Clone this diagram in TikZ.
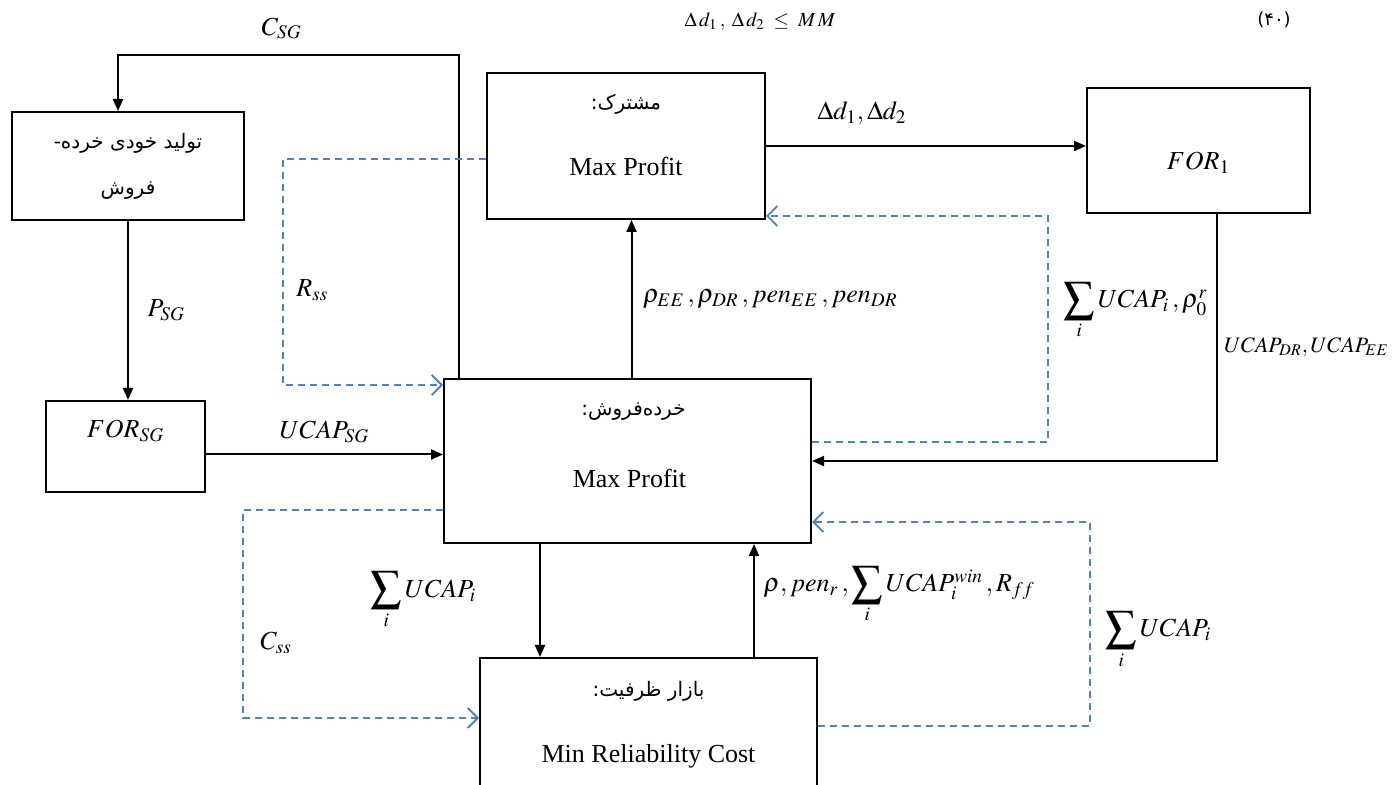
\documentclass[tikz,border=0pt]{standalone}
\usepackage{mathptmx}
\usepackage{fontspec}
\setmainfont{Liberation Serif}
\newfontfamily\fafont[Script=Arabic]{DejaVu Sans}
\TeXXeTstate=1
\usetikzlibrary{arrows.meta,positioning}
\definecolor{dashblue}{RGB}{79,129,189}
\newcommand\bigsum{\mathop{\vcenter{\hbox{\scalebox{1.7}{$\sum$}}}}\limits}

\begin{document}
\begin{tikzpicture}[x=0.5pt, y=-0.5pt, font=\fontsize{13}{15}\selectfont,
  box/.style={draw, line width=1pt, inner sep=0pt, align=center},
  fa/.style={font=\fontsize{10}{23}\fafont},
  arr/.style={line width=1pt, -{Triangle[length=6pt,width=5pt]}},
  dsh/.style={dashblue, text=black, line width=0.8pt, dash pattern=on 3.5pt off 2.5pt, -{Straight Barb[length=5pt,width=10pt,line width=0.9pt]}}]
	\clip (0,0) rectangle (1393,785);

	% boxes
	\node[box, fa, minimum width=116pt, minimum height=54pt] (own) at (128,166) {\beginR تولید خودی خرده-\endR\\\beginR فروش\endR};
	\node[box, minimum width=139pt, minimum height=73pt] (sub) at (626,146) {};
	\node[fa] (subt) at ([yshift=-16pt]sub.north) {\beginR مشترک:\endR};
	\node (subm) at ([yshift=-47pt]sub.north) {Max Profit};
	\node[box, minimum width=111.5pt, minimum height=62.5pt] (for1) at (1198.5,150.5) {};
	\node (for1t) at ([yshift=-6pt]for1.center) {$FOR_1$};
	\node[box, minimum width=79.5pt, minimum height=45.5pt] (forsg) at (125.5,446.5) {};
	\node (forsgt) at ([yshift=8pt]forsg.center) {$FOR_{SG}$};
	\node[box, minimum width=183.5pt, minimum height=82pt] (ret) at (627.5,461) {};
	\node[fa] (rett) at ([xshift=3pt,yshift=-17pt]ret.north) {\beginR خرده‌فروش:\endR};
	\node (retm) at ([xshift=1pt,yshift=-50pt]ret.north) {Max Profit};
	\node[box, minimum width=168.5pt, minimum height=71pt] (cap) at (648.5,729) {};
	\node[fa] (capt) at ([yshift=-17pt]cap.north) {\beginR بازار ظرفیت:\endR};
	\node (capm) at ([yshift=-49.5pt]cap.north) {Min Reliability Cost};

	% header line
	\node[font=\fontsize{10}{12}\selectfont] (cons) at (760,22) {$\Delta\, d_1\,,\;\Delta\, d_2\; \le\; M\,M$};
	\node[font=\fontsize{9}{11}\fafont] (eqno) at (1274,20) {(۴۰)};

	% solid connectors
	\coordinate (csgbend) at (118,55);
	\draw[arr] ([xshift=8pt]ret.north west) |- (csgbend) node[pos=0.76, above=4pt] (csg) {$C_{SG}$} -- (own.north -| csgbend);
	\draw[arr] (own.south) -- (own.south |- forsg.north) node[midway, right=6pt] (psg) {$P_{SG}$};
	\draw[arr] ([yshift=-4pt]forsg.east) -- ([yshift=-4pt]forsg.east -| ret.west) node[midway, above=2pt] (ucsg) {$UCAP_{SG}$};
	\draw[arr] (sub.east) -- (sub.east -| for1.west) node[pos=0.3, above=7pt] (dd) {$\Delta d_1, \Delta d_2$};
	\draw[arr] ([xshift=9pt]for1.south) |- (ret.east) node[pos=0.27, right=0pt, font=\fontsize{11}{13}\selectfont] (ucdr) {$UCAP_{DR}, UCAP_{EE}$};
	\draw[arr] ([xshift=2pt]ret.north) -- ([xshift=2pt]ret.north |- sub.south) node[midway, right=2pt] (rho) {$\rho_{EE}\,, \rho_{DR}\,, pen_{EE}\,, pen_{DR}$};
	\draw[arr] ([xshift=-43.75pt]ret.south) -- ([xshift=-43.75pt]ret.south |- cap.north) node[midway, left=28pt] (sum1) {$\bigsum_i UCAP_i$};
	\draw[arr] ([xshift=52.75pt]cap.north) -- ([xshift=52.75pt]cap.north |- ret.south) node[pos=0.55, right=1pt] (rhopen) {$\rho, pen_r\,, \bigsum_i UCAP_i^{win}\,, R_{ff}$};

	% dashed feedback
	\coordinate (rssbend) at (283,385);
	\draw[dsh] ([yshift=-6.5pt]sub.west) -| (rssbend) node[pos=0.79, right=3pt] (rss) {$R_{ss}$} -- (rssbend -| ret.west);
	\coordinate (sumbend) at (1048,216);
	\draw[dsh] ([yshift=9.5pt]ret.east) -| (sumbend) node[pos=0.79, right=4pt] (sumrho) {$\bigsum_i UCAP_i\,, \rho_0^r$} -- (sumbend -| sub.east);
	\coordinate (cssbend) at (243,718);
	\draw[dsh] ([yshift=-24.5pt]ret.west) -| (cssbend) node[pos=0.82, right=5pt] (css) {$C_{ss}$} -- (cssbend -| cap.west);
	\coordinate (ucbend) at (1090,522);
	\draw[dsh] ([yshift=1.5pt]cap.east) -| (ucbend) node[pos=0.71, right=4pt] (sum2) {$\bigsum_i UCAP_i$} -- (ucbend -| ret.east);
\end{tikzpicture}
\end{document}
